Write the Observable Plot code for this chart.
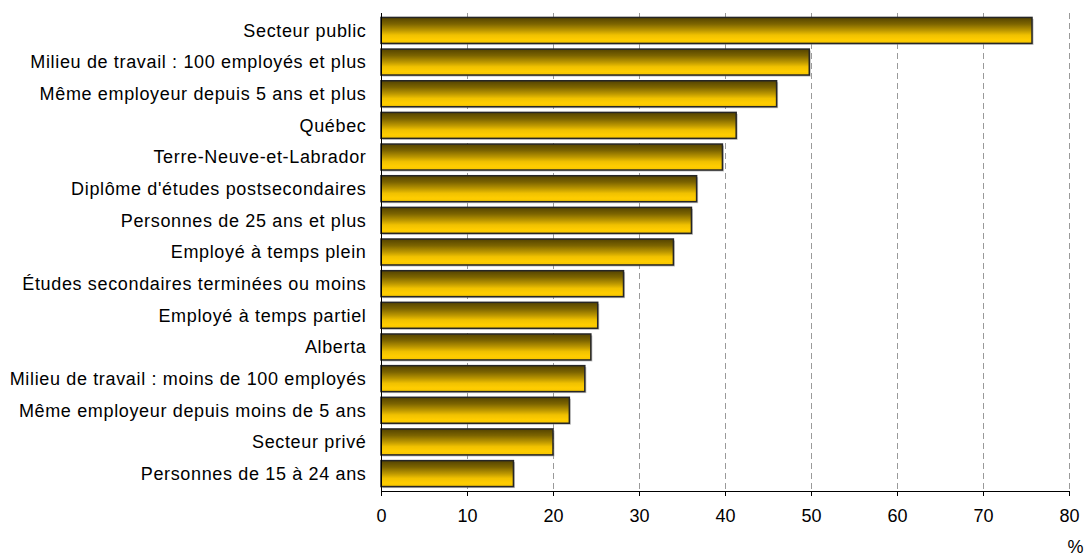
<!DOCTYPE html>
<html>
<head>
<meta charset="utf-8">
<script src="https://cdn.jsdelivr.net/npm/d3@7"></script>
<script src="https://cdn.jsdelivr.net/npm/@observablehq/plot@0.6"></script>
<style>
  html, body { margin: 0; padding: 0; background: #ffffff; overflow: hidden; }
  #chart svg { display: block; }
  #chart svg g[aria-label="y-axis tick label"] text { letter-spacing: 0.65px; }
</style>
</head>
<body>
<div id="chart"></div>
<script>
const categories = [
  "Secteur public",
  "Milieu de travail : 100 employés et plus",
  "Même employeur depuis 5 ans et plus",
  "Québec",
  "Terre-Neuve-et-Labrador",
  "Diplôme d'études postsecondaires",
  "Personnes de 25 ans et plus",
  "Employé à temps plein",
  "Études secondaires terminées ou moins",
  "Employé à temps partiel",
  "Alberta",
  "Milieu de travail : moins de 100 employés",
  "Même employeur depuis moins de 5 ans",
  "Secteur privé",
  "Personnes de 15 à 24 ans"
];
const values = [75.7, 49.8, 46.0, 41.3, 39.7, 36.7, 36.1, 34.0, 28.2, 25.2, 24.4, 23.7, 21.9, 20.0, 15.4];
const xTicks = [0, 10, 20, 30, 40, 50, 60, 70, 80];
const gridTicks = [10, 20, 30, 40, 50, 60, 70, 80];
const unitLabel = ["%"];

const data = categories.map((c, i) => ({category: c, value: values[i]}));

const chart = Plot.plot({
  width: 1084,
  height: 558,
  marginLeft: 381,
  marginRight: 15,
  marginTop: 13,
  marginBottom: 67,
  style: {fontFamily: "'Liberation Sans', Arial, sans-serif", fontSize: "18px", background: "#ffffff", color: "#000"},
  x: {domain: [0, 80]},
  y: {domain: categories, paddingInner: 0.18, paddingOuter: 0.14, round: false},
  marks: [
    Plot.ruleX(gridTicks, {stroke: "#9a9a9a", strokeWidth: 1, strokeDasharray: "6,4"}),
    Plot.barX(data, {x: "value", y: "category", fill: "#8a8a8a", fillOpacity: 0.55, dx: 1.5, dy: 1.5}),
    Plot.barX(data, {x: "value", y: "category", fill: "url(#goldGrad)", stroke: "#262626", strokeWidth: 1.5}),
    Plot.ruleX([0], {stroke: "#000", strokeWidth: 1}),
    Plot.frame({anchor: "bottom", stroke: "#000", strokeWidth: 1}),
    Plot.axisX({ticks: xTicks, tickSize: 5, tickPadding: 13, fontSize: 18, label: null, stroke: "#000"}),
    Plot.axisY({tickSize: 0, tickPadding: 15, fontSize: 18, label: null}),
    Plot.text(unitLabel, {frameAnchor: "bottom-right", dx: 6, dy: 56, textAnchor: "middle", lineAnchor: "middle", fontSize: 18})
  ]
});

const svgNS = "http://www.w3.org/2000/svg";
const defs = document.createElementNS(svgNS, "defs");
const grad = document.createElementNS(svgNS, "linearGradient");
grad.setAttribute("id", "goldGrad");
grad.setAttribute("x1", "0"); grad.setAttribute("y1", "0");
grad.setAttribute("x2", "0"); grad.setAttribute("y2", "1");
[["0", "#544300"], ["0.25", "#7c6400"], ["0.5", "#bc9700"], ["0.68", "#f0c100"], ["0.86", "#ffcd00"], ["1", "#f5c500"]].forEach(([o, c]) => {
  const s = document.createElementNS(svgNS, "stop");
  s.setAttribute("offset", o);
  s.setAttribute("stop-color", c);
  grad.appendChild(s);
});
defs.appendChild(grad);
const svgEl = chart.tagName.toLowerCase() === "svg" ? chart : chart.querySelector("svg");
svgEl.insertBefore(defs, svgEl.firstChild);

document.getElementById("chart").appendChild(chart);
</script>
</body>
</html>
